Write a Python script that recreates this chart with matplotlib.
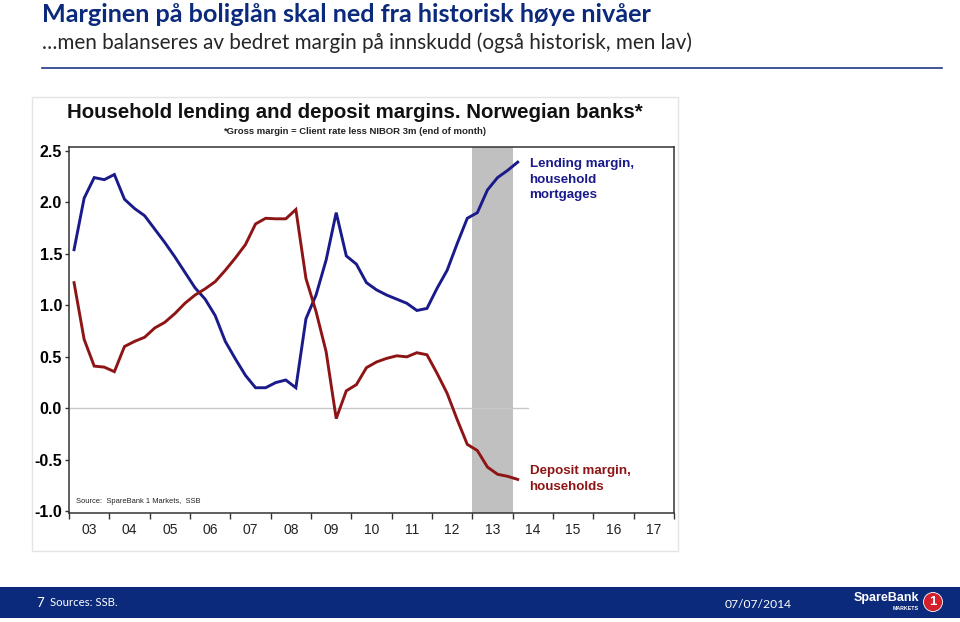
import matplotlib
matplotlib.use("Agg")
from matplotlib import pyplot as plt
from matplotlib import ticker
from matplotlib.patches import Rectangle, Ellipse
import numpy as np

# quarterly gross margins, 2003Q1 - 2014Q1 (percentage points)
quarters = [f"{y}Q{q}" for y in range(2003, 2015) for q in range(1, 5)][:45]
lendingMargin = [1.54, 2.04, 2.24, 2.22, 2.27, 2.03, 1.94, 1.87, 1.74, 1.61,
                 1.47, 1.32, 1.17, 1.06, 0.90, 0.65, 0.48, 0.32, 0.20, 0.20,
                 0.25, 0.275, 0.20, 0.87, 1.10, 1.44, 1.90, 1.48, 1.40, 1.22,
                 1.15, 1.10, 1.06, 1.02, 0.95, 0.97, 1.165, 1.34, 1.60, 1.845,
                 1.90, 2.12, 2.24, 2.31, 2.39]
depositMargin = [1.22, 0.67, 0.41, 0.40, 0.356, 0.60, 0.65, 0.69, 0.78, 0.835,
                 0.92, 1.02, 1.10, 1.16, 1.23, 1.34, 1.46, 1.59, 1.79, 1.845,
                 1.84, 1.84, 1.93, 1.26, 0.94, 0.55, -0.10, 0.17, 0.23, 0.395,
                 0.45, 0.485, 0.51, 0.50, 0.54, 0.52, 0.34, 0.146, -0.11, -0.35,
                 -0.41, -0.57, -0.64, -0.66, -0.69]
yearLabels = ["03", "04", "05", "06", "07", "08", "09", "10", "11", "12", "13", "14", "15", "16", "17"]
yTicks = [-1.0, -0.5, 0.0, 0.5, 1.0, 1.5, 2.0, 2.5]
shadeYears = (2013, 2014)

NAVY = "#0b2a7c"
BLUE = "#1a1a8a"
RED = "#8e1515"

W, H = 960, 622


# pixel position on the slide -> figure fraction
def fx(x):
    return x / W


def fy(y):
    return 1 - y / H


fig = plt.figure(figsize=(W / 100, H / 100), dpi=100)

##--Slide header--##
fig.text(fx(42), fy(15), "Marginen på boliglån skal ned fra historisk høye nivåer",
         family="Lato", weight="bold", fontsize=18.2, color=NAVY, va="center", ha="left")
fig.text(fx(42), fy(43), "\u2026men balanseres av bedret margin på innskudd (også historisk, men lav)",
         family="Lato", fontsize=14.9, color="#262626", va="center", ha="left")
fig.add_artist(plt.Line2D([fx(42), fx(942)], [fy(68), fy(68)], color="#1f3a84", lw=1.2))

##--Chart picture background--##
fig.add_artist(Rectangle((fx(32), fy(551)), fx(678) - fx(32), fy(97) - fy(551),
                         facecolor="white", edgecolor="#e4e4e4", lw=1, zorder=-5))

fig.text(fx(355), fy(112), "Household lending and deposit margins. Norwegian banks*",
         family="Liberation Sans", weight="bold", fontsize=14.7, color="#111111", ha="center", va="center")
fig.text(fx(355), fy(131), "*Gross margin = Client rate less NIBOR 3m (end of month)",
         family="Liberation Sans", weight="bold", fontsize=6.8, color="#222222", ha="center", va="center")

##--Main chart--##
ax = fig.add_axes([fx(69), fy(513), fx(674) - fx(69), fy(147) - fy(513)])
x = [int(q[:4]) + (int(q[-1]) - 0.5) / 4 for q in quarters]

ax.axvspan(shadeYears[0], shadeYears[1], color="#c0c0c0", lw=0, zorder=1)
ax.plot([2003, 2014.38], [0, 0], color="#c8c8c8", lw=1, zorder=2)
ax.plot(x, lendingMargin, color=BLUE, lw=2.1, zorder=3, solid_joinstyle="miter")
ax.plot(x, depositMargin, color=RED, lw=2.1, zorder=3, solid_joinstyle="miter")

ax.set_xlim(2003, 2018)
ax.set_ylim(-1.016, 2.537)

ax.xaxis.set_major_locator(ticker.FixedLocator(np.arange(2003, 2019)))
ax.xaxis.set_major_formatter(ticker.NullFormatter())
ax.xaxis.set_minor_locator(ticker.FixedLocator(np.arange(2003, 2018) + 0.5))
ax.xaxis.set_minor_formatter(ticker.FixedFormatter(yearLabels))
ax.tick_params(axis="x", which="major", length=4, width=1, color="#333333", direction="out")
ax.tick_params(axis="x", which="minor", length=0, pad=7, labelsize=10)

ax.set_yticks(yTicks)
ax.set_yticklabels([f"{v:.1f}" for v in yTicks])
ax.tick_params(axis="y", length=3, width=1, color="#333333", pad=2, labelsize=11.5)
for lbl in ax.get_yticklabels():
    lbl.set_fontweight("bold")
    lbl.set_family("Liberation Sans")
for lbl in ax.xaxis.get_minorticklabels():
    lbl.set_family("Liberation Sans")
    lbl.set_color("#222222")

for s in ax.spines.values():
    s.set_color("#333333")
    s.set_linewidth(1.1)

ax.text(2003.18, -0.9, "Source:  SpareBank 1 Markets,  SSB", fontsize=5.4,
        family="Liberation Sans", color="#222222", va="center")

##--Series labels--##
ax.text(2014.42, 2.43, "Lending margin,\nhousehold\nmortgages", color=BLUE, fontsize=9.6,
        weight="bold", family="Liberation Sans", va="top", linespacing=1.4)
ax.text(2014.42, -0.55, "Deposit margin,\nhouseholds", color=RED, fontsize=9.6,
        weight="bold", family="Liberation Sans", va="top", linespacing=1.4)

##--Footer--##
fig.add_artist(Rectangle((0, fy(618)), 1, fy(587) - fy(618), facecolor=NAVY, edgecolor="none"))
fig.text(fx(36), fy(603), "7", color="white", fontsize=9.5, family="Lato", va="center")
fig.text(fx(50), fy(603), "Sources: SSB.", color="white", fontsize=8.2, family="Lato", va="center")
fig.text(fx(725), fy(604), "07/07/2014", color="white", fontsize=8.7, family="Lato", va="center")
fig.text(fx(919), fy(598), "SpareBank", color="white", fontsize=9, weight="bold",
         family="Liberation Sans", ha="right", va="center")
fig.text(fx(919), fy(609), "MARKETS", color="white", fontsize=3.8, weight="bold",
         family="Liberation Sans", ha="right", va="center")
fig.add_artist(Ellipse((fx(933), fy(602)), 19 / W, 19 / H, facecolor="#d3202c", edgecolor="white", lw=0.6))
fig.text(fx(933), fy(602), "1", color="white", fontsize=9.5, weight="bold",
         family="Liberation Sans", ha="center", va="center")

plt.savefig("out.png", dpi=100)
